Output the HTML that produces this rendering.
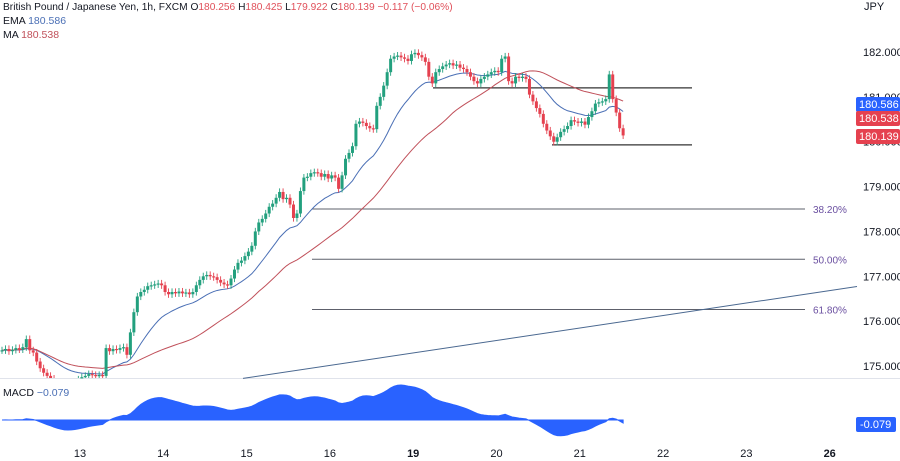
<!DOCTYPE html>
<html><head><meta charset="utf-8"><style>
body{margin:0;background:#fff;width:900px;height:461px;overflow:hidden;font-family:"Liberation Sans",sans-serif}
svg{display:block}
</style></head><body>
<svg width="900" height="461" id="c" font-family="Liberation Sans, sans-serif">
<text x="3" y="10" font-size="10.2" fill="#131722">British Pound / Japanese Yen, 1h, FXCM <tspan fill="#131722">O</tspan><tspan fill="#e0505a">180.256</tspan> <tspan fill="#131722">H</tspan><tspan fill="#e0505a">180.425</tspan> <tspan fill="#131722">L</tspan><tspan fill="#e0505a">179.922</tspan> <tspan fill="#131722">C</tspan><tspan fill="#e0505a">180.139</tspan> <tspan fill="#e0505a">−0.117 (−0.06%)</tspan></text>
<text x="3" y="24" font-size="10.5" fill="#131722">EMA <tspan fill="#4a6fb5">180.586</tspan></text>
<text x="3" y="38" font-size="10.5" fill="#131722">MA <tspan fill="#c0505a">180.538</tspan></text>
<text x="864" y="10" font-size="11" fill="#131722">JPY</text>
<line x1="0" y1="378.5" x2="900" y2="378.5" stroke="#e0e3eb"/>
<text x="3" y="396" font-size="10.5" fill="#131722">MACD <tspan fill="#4a6fb5">−0.079</tspan></text>
<g id="ax"></g><g id="draw"></g><g id="candles"></g>
</svg>
<script>
const closes=[175.35,175.38,175.33,175.36,175.40,175.37,175.42,175.60,175.35,175.30,175.10,174.95,174.85,174.78,174.72,
174.6,174.55,174.5,174.5,174.55,174.6,174.65,174.7,174.75,174.78,174.82,174.80,174.78,174.80,174.78,
175.40,175.33,175.38,175.36,175.40,175.42,175.25,175.75,176.20,176.55,176.65,176.70,176.78,176.80,176.82,176.84,176.80,176.65,176.60,176.65,
176.62,176.66,176.62,176.64,176.60,176.65,176.80,176.92,177.00,177.03,177.00,176.98,176.92,176.86,176.82,176.80,176.95,177.15,177.30,177.35,
177.45,177.55,177.68,178.00,178.20,178.28,178.40,178.55,178.62,178.75,178.88,178.72,178.75,178.60,178.30,178.40,178.90,179.20,179.22,179.30,
179.32,179.30,179.22,179.28,179.18,179.25,179.20,178.95,179.25,179.62,179.75,179.90,180.40,180.45,180.42,180.35,180.30,180.28,180.80,181.00,
181.25,181.55,181.85,181.90,181.92,181.88,181.85,181.80,181.95,181.98,181.93,181.88,181.78,181.45,181.30,181.55,181.62,181.68,181.72,181.75,
181.70,181.72,181.65,181.62,181.55,181.45,181.35,181.30,181.40,181.45,181.50,181.55,181.58,181.55,181.85,181.90,181.35,181.30,181.45,181.42,
181.45,181.40,181.05,180.90,180.75,180.62,180.40,180.25,180.12,180.00,180.10,180.22,180.28,180.35,180.48,180.45,180.42,180.45,180.38,180.55,
180.68,180.85,180.88,180.90,180.95,181.50,180.95,180.65,180.30,180.14];
const priceTicks=[182,181,180,179,178,177,176,175];
const dayLabels=["13","14","15","16","19","20","21","22","23","26"];
const dayBold=[false,false,false,false,true,false,false,false,false,true];
const fibLevels=[178.50,177.38,176.26];
const fibLabels=["38.20%","50.00%","61.80%"];
const rangeTop=181.20, rangeBottom=179.93;
const trendStart=[70,174.73], trendEnd=[247,176.78];

const NS="http://www.w3.org/2000/svg";
const X=i=>2+i*3.47, Y=p=>52+(182-p)*44.86;
function mk(t,a,par){const e=document.createElementNS(NS,t);for(const k in a)e.setAttribute(k,a[k]);document.getElementById(par).appendChild(e);return e;}
priceTicks.forEach(p=>{const t=mk('text',{x:863,y:Y(p)+4,'font-size':11,fill:'#131722'},'ax');t.textContent=p.toFixed(3);

});
dayLabels.forEach((d,k)=>{const t=mk('text',{x:80+k*83.3,y:457,'font-size':11,fill:'#131722','text-anchor':'middle','font-weight':dayBold[k]?'bold':'normal'},'ax');t.textContent=d;

});
fibLevels.forEach((f,k)=>{const l=mk('line',{x1:312,x2:805,y1:Y(f),y2:Y(f),stroke:'#5d606b','stroke-width':1},'draw');


const t=mk('text',{x:813,y:Y(f)+4,'font-size':10,fill:'#6a4fa0'},'draw');t.textContent=fibLabels[k];

});
[[433,rangeTop],[552,rangeBottom]].forEach(([x,p])=>{const l=mk('line',{x1:x,x2:692,y1:Y(p),y2:Y(p),stroke:'#333','stroke-width':1.3},'draw');

});
{const sl=(trendEnd[1]-trendStart[1])/(trendEnd[0]-trendStart[0]);const i0=(243-2)/3.47,i1=(857-2)/3.47;
const l=mk('line',{x1:243,y1:Y(trendStart[1]+sl*(i0-trendStart[0])),x2:857,y2:Y(trendStart[1]+sl*(i1-trendStart[0])),stroke:'#4a6890','stroke-width':1},'draw');

}
function ema(a,n){const k=2/(n+1);let r=[],v=a[0];a.forEach(c=>{v=c*k+v*(1-k);r.push(v);});return r;}
function sma(a,n){return a.map((c,i)=>{const s=a.slice(Math.max(0,i-n+1),i+1);return s.reduce((x,y)=>x+y,0)/s.length;});}
const e=ema(closes,20), m=sma(closes,45);
const clipP=mk('clipPath',{id:'pc'},'draw');const cr=document.createElementNS(NS,'rect');cr.setAttribute('x',0);cr.setAttribute('y',0);cr.setAttribute('width',850);cr.setAttribute('height',378);clipP.appendChild(cr);
const pe=mk('path',{d:e.map((v,i)=>(i?'L':'M')+X(i)+','+Y(v)).join(''),fill:'none',stroke:'#4a6fb5','stroke-width':1,'clip-path':'url(#pc)'},'draw');


const pm=mk('path',{d:m.map((v,i)=>(i?'L':'M')+X(i)+','+Y(v)).join(''),fill:'none',stroke:'#c0505a','stroke-width':1,'clip-path':'url(#pc)'},'draw');


const e12=ema(closes,12),e26=ema(closes,26);const macd=e12.map((v,i)=>v-e26[i]);
const mx=Math.max(...macd.map(Math.abs));const MY=v=>420-v/mx*35;
const ma=mk('path',{d:'M'+X(0)+',420'+macd.map((v,i)=>'L'+X(i)+','+MY(v)).join('')+'L'+X(closes.length-1)+',420Z',fill:'#2962ff',stroke:'#2962ff'},'draw');


closes.forEach((c,i)=>{const o=i?closes[i-1]:c;const up=c>=o;const col=up?'#22a07e':'#e5414f';
const hi=Math.max(o,c)+0.08,lo=Math.min(o,c)-0.08;
const w=mk('line',{x1:X(i),x2:X(i),y1:Math.min(Y(hi),378),y2:Math.min(Y(lo),378),stroke:col,'stroke-width':0.9},'candles');


const top=Y(Math.max(o,c));if(top>=378)return;
const r=mk('rect',{x:X(i)-1.5,y:top,width:3,height:Math.max(1.2,Math.min(Math.abs(Y(o)-Y(c)),378-top)),fill:col},'candles');

});
[[180.586,'#2962ff'],[180.538,'#e5414f'],[180.139,'#e5414f']].forEach(([p,col],k)=>{const yy=[104,118,136][k];
const r=mk('rect',{x:856,y:yy-7,width:44,height:15,rx:2,fill:col},'candles');


const t=mk('text',{x:859,y:yy+4,'font-size':11,fill:'#fff'},'candles');t.textContent=p.toFixed(3);

});
{const r=mk('rect',{x:856,y:417,width:40,height:15,rx:2,fill:'#2962ff'},'candles');


const t=mk('text',{x:860,y:428,'font-size':11,fill:'#fff'},'candles');t.textContent='-0.079';

}
</script>
</body></html>
